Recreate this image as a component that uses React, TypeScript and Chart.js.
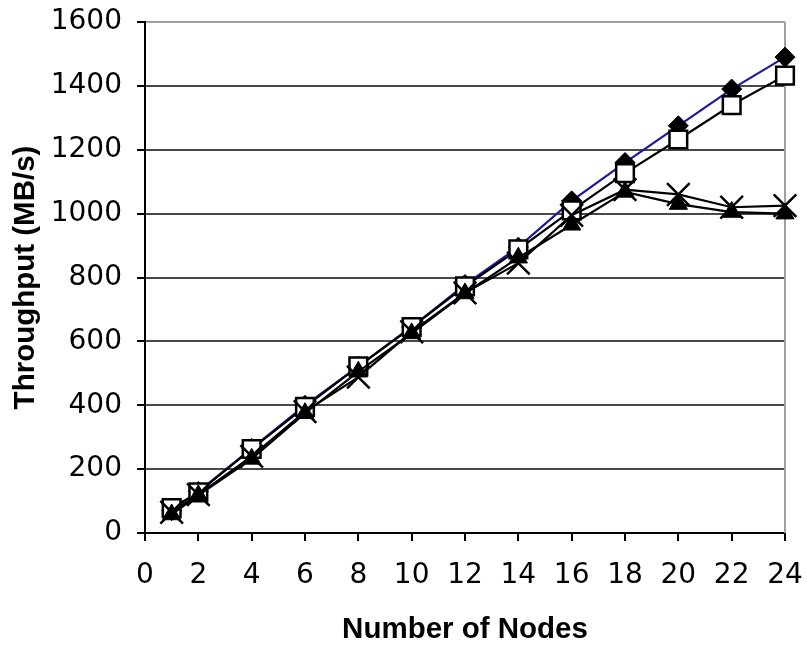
import React, { useEffect, useRef } from "react";
import { Chart, registerables } from "chart.js";

Chart.register(...registerables);

const nodes = [1, 2, 4, 6, 8, 10, 12, 14, 16, 18, 20, 22, 24];
const diamondSeries = [70, 130, 265, 400, 522, 645, 778, 895, 1040, 1160, 1275, 1390, 1490];
const squareSeries = [78, 127, 263, 395, 522, 645, 772, 888, 1010, 1127, 1232, 1340, 1432];
const crossSeries = [65, 120, 240, 380, 488, 630, 752, 845, 995, 1075, 1060, 1020, 1025];
const triangleSeries = [58, 118, 232, 375, 505, 625, 750, 862, 965, 1068, 1030, 1005, 1000];

const xTitle = "Number of Nodes";
const yTitle = "Throughput (MB/s)";
const TICK_FONT = "'DejaVu Sans', sans-serif";
const TITLE_FONT = "'Liberation Sans', Arial, sans-serif";

export default function App() {
  const ref = useRef<HTMLCanvasElement>(null);
  useEffect(() => {
    document.body.style.margin = "0";
    const toPts = (arr: number[]) => nodes.map((x, i) => ({ x, y: arr[i] }));
    const rightBorder = {
      id: "rightBorder",
      beforeDatasetsDraw(chart: any) {
        const { ctx, chartArea } = chart;
        ctx.save();
        ctx.strokeStyle = "#a0a0a0";
        ctx.lineWidth = 2;
        ctx.beginPath();
        ctx.moveTo(chartArea.right, chartArea.top);
        ctx.lineTo(chartArea.right, chartArea.bottom);
        ctx.stroke();
        ctx.restore();
      },
    };
    const chart = new Chart(ref.current!, {
      type: "scatter",
      data: {
        datasets: [
          {
            data: toPts(diamondSeries),
            showLine: true,
            borderColor: "#1a1a9a",
            borderWidth: 2.2,
            pointStyle: "rectRot",
            pointRadius: 10,
            pointBackgroundColor: "#000",
            pointBorderColor: "#000",
            pointBorderWidth: 1,
            order: 4,
            clip: false,
          },
          {
            data: toPts(squareSeries),
            showLine: true,
            borderColor: "#000",
            borderWidth: 2.2,
            pointStyle: "rect",
            pointRadius: 12.5,
            pointBackgroundColor: "#fff",
            pointBorderColor: "#000",
            pointBorderWidth: 2.5,
            order: 3,
            clip: false,
          },
          {
            data: toPts(crossSeries),
            showLine: true,
            borderColor: "#000",
            borderWidth: 2.2,
            pointStyle: "crossRot",
            pointRadius: 16,
            pointBackgroundColor: "#000",
            pointBorderColor: "#000",
            pointBorderWidth: 2.5,
            order: 2,
            clip: false,
          },
          {
            data: toPts(triangleSeries),
            showLine: true,
            borderColor: "#000",
            borderWidth: 2.2,
            pointStyle: "triangle",
            pointRadius: 10.5,
            pointBackgroundColor: "#000",
            pointBorderColor: "#000",
            pointBorderWidth: 1,
            order: 1,
            clip: false,
          },
        ],
      },
      options: {
        animation: false,
        responsive: false,
        layout: { padding: { top: 22, right: 22, left: 0, bottom: 0 } },
        plugins: { legend: { display: false }, tooltip: { enabled: false } },
        scales: {
          x: {
            type: "linear",
            min: 0,
            max: 24,
            afterFit: (s: any) => {
              s.height = 112;
              s.paddingLeft = 0;
              s.paddingRight = 0;
            },
            ticks: {
              stepSize: 2,
              color: "#000",
              font: { family: TICK_FONT, size: 28 },
              padding: 18,
            },
            grid: {
              drawOnChartArea: true,
              color: () => "rgba(0,0,0,0)",
              tickColor: "#000",
              tickLength: 8,
              lineWidth: 2,
            },
            border: { color: "#000", width: 2 },
            title: {
              display: true,
              text: xTitle,
              color: "#000",
              font: { family: TITLE_FONT, size: 29.5, weight: "bold", lineHeight: 1.05 },
              padding: { top: 0, bottom: 0 },
            },
          },
          y: {
            min: 0,
            max: 1600,
            afterFit: (s: any) => {
              s.width = 145;
              s.paddingTop = 0;
              s.paddingBottom = 0;
            },
            ticks: {
              stepSize: 200,
              color: "#000",
              font: { family: TICK_FONT, size: 28 },
              padding: 15,
              callback: (v: any) => String(v),
            },
            grid: {
              color: (c: any) => (c.tick && c.tick.value === 1600 ? "#a0a0a0" : "#484848"),
              tickColor: "#000",
              tickLength: 8,
              lineWidth: 2,
            },
            border: { color: "#000", width: 2 },
            title: {
              display: true,
              text: yTitle,
              color: "#000",
              font: { family: TITLE_FONT, size: 29.5, weight: "bold" },
              padding: { top: 8, bottom: 0 },
            },
          },
        },
      },
      plugins: [rightBorder],
    } as any);
    return () => chart.destroy();
  }, []);
  return (
    <div style={{ width: 807, height: 645 }}>
      <canvas ref={ref} width={807} height={645} style={{ display: "block" }} />
    </div>
  );
}
